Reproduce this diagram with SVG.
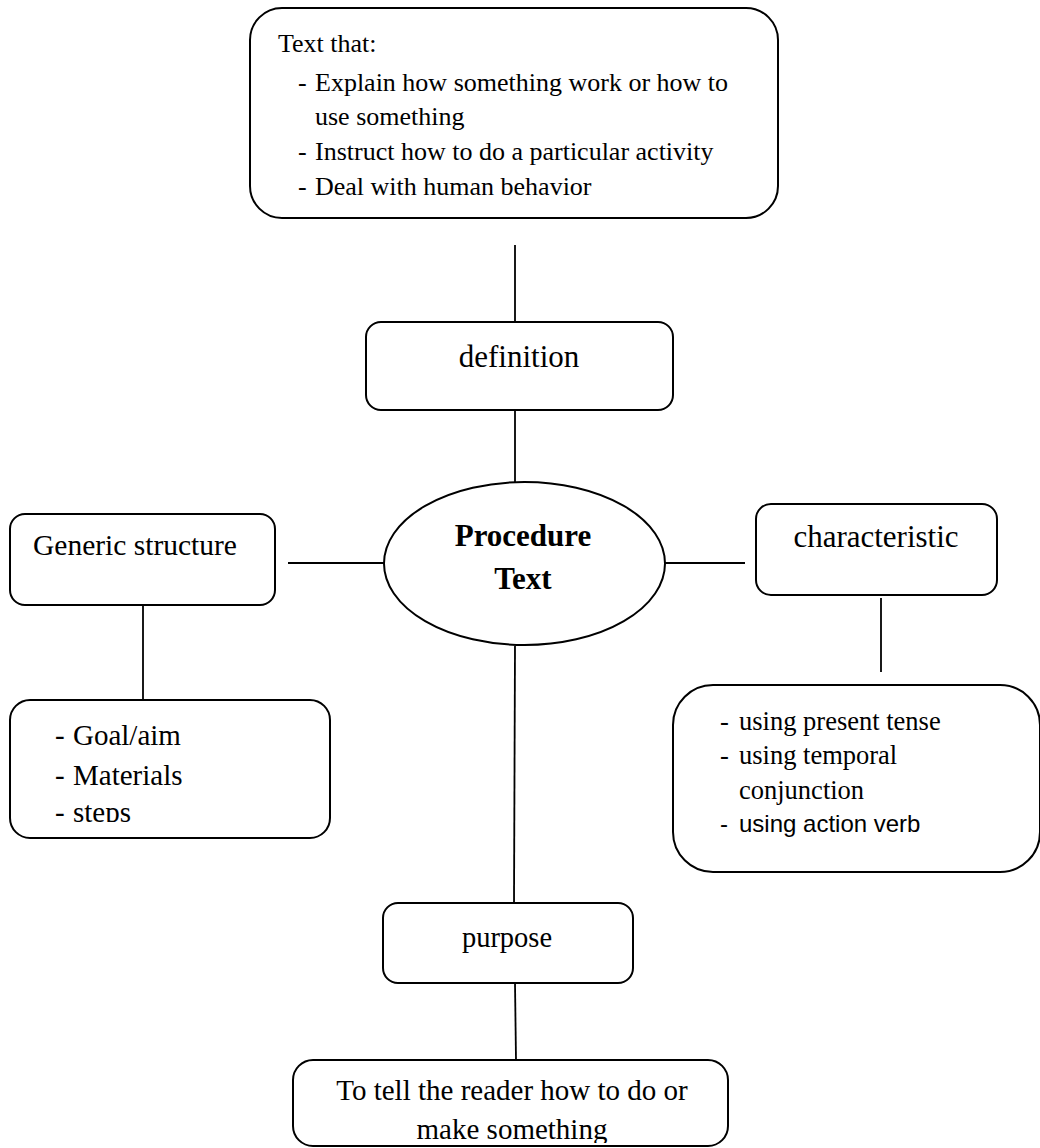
<svg xmlns="http://www.w3.org/2000/svg" width="1040" height="1148" viewBox="0 0 1040 1148">
<style>
.box{fill:#fff;stroke:#000;stroke-width:2}
.ln{stroke:#000;stroke-width:1.8;fill:none}
.t{font-family:"Liberation Serif","Times New Roman",serif;fill:#000}
.s{font-family:"Liberation Sans",Arial,sans-serif;fill:#000}
</style>
<defs>
<clipPath id="clipGoal"><rect x="10" y="700" width="320" height="122"/></clipPath>
<clipPath id="clipBottom"><rect x="293" y="1060" width="435" height="83"/></clipPath>
</defs>
<rect width="1040" height="1148" fill="#fff"/>
<g id="connectors">
<line class="ln" x1="515" y1="245" x2="515" y2="322"/>
<line class="ln" x1="515" y1="410" x2="515" y2="483"/>
<line class="ln" x1="288" y1="563" x2="384" y2="563"/>
<line class="ln" x1="665" y1="563" x2="745" y2="563"/>
<line class="ln" x1="143" y1="598" x2="143" y2="700"/>
<line class="ln" x1="881" y1="598" x2="881" y2="672"/>
<line class="ln" x1="515" y1="646" x2="514" y2="903"/>
<line class="ln" x1="515" y1="983" x2="516" y2="1060"/>
</g>
<g id="node-top">
<rect class="box" x="250" y="8" width="528" height="210" rx="32" ry="32"/>
<text class="t" font-size="26" x="278" y="52">Text that:</text>
<text class="t" font-size="26" x="298" y="91">-</text>
<text class="t" font-size="26" x="315" y="91">Explain how something work or how to</text>
<text class="t" font-size="26" x="315" y="125">use something</text>
<text class="t" font-size="26" x="298" y="160">-</text>
<text class="t" font-size="26" x="315" y="160">Instruct how to do a particular activity</text>
<text class="t" font-size="26" x="298" y="195">-</text>
<text class="t" font-size="26" x="315" y="195">Deal with human behavior</text>
</g>
<g id="node-definition">
<rect class="box" x="366" y="322" width="307" height="88" rx="15" ry="15"/>
<text class="t" font-size="31" x="519" y="367" text-anchor="middle">definition</text>
</g>
<g id="node-center">
<ellipse class="box" cx="524.5" cy="563.5" rx="140.5" ry="81.5"/>
<text class="t" font-size="31" font-weight="bold" x="523" y="546" text-anchor="middle">Procedure</text>
<text class="t" font-size="31" font-weight="bold" x="523" y="589" text-anchor="middle">Text</text>
</g>
<g id="node-generic">
<rect class="box" x="10" y="514" width="265" height="91" rx="15" ry="15"/>
<text class="t" font-size="29.5" x="33" y="555">Generic structure</text>
</g>
<g id="node-goal">
<rect class="box" x="10" y="700" width="320" height="138" rx="20" ry="20"/>
<g clip-path="url(#clipGoal)">
<text class="t" font-size="29" x="55" y="745">-</text>
<text class="t" font-size="29" x="73" y="745">Goal/aim</text>
<text class="t" font-size="29" x="55" y="785">-</text>
<text class="t" font-size="29" x="73" y="785">Materials</text>
<text class="t" font-size="29" x="55" y="822">-</text>
<text class="t" font-size="29" x="73" y="822">steps</text>
</g>
</g>
<g id="node-characteristic">
<rect class="box" x="756" y="504" width="241" height="91" rx="15" ry="15"/>
<text class="t" font-size="31" x="876" y="547" text-anchor="middle">characteristic</text>
</g>
<g id="node-char-list">
<rect class="box" x="673" y="685" width="367" height="187" rx="40" ry="40"/>
<text class="t" font-size="26.5" x="720" y="730">-</text>
<text class="t" font-size="26.5" x="739" y="730">using present tense</text>
<text class="t" font-size="26.5" x="720" y="764">-</text>
<text class="t" font-size="26.5" x="739" y="764">using temporal</text>
<text class="t" font-size="26.5" x="739" y="799">conjunction</text>
<text class="s" font-size="24" x="720" y="832">-</text>
<text class="s" font-size="24" x="739" y="832">using action verb</text>
</g>
<g id="node-purpose">
<rect class="box" x="383" y="903" width="250" height="80" rx="15" ry="15"/>
<text class="t" font-size="28.5" x="507" y="947" text-anchor="middle">purpose</text>
</g>
<g id="node-bottom">
<rect class="box" x="293" y="1060" width="435" height="86" rx="20" ry="20"/>
<g clip-path="url(#clipBottom)">
<text class="t" font-size="29" x="512" y="1100" text-anchor="middle">To tell the reader how to do or</text>
<text class="t" font-size="29" x="512" y="1139" text-anchor="middle">make something</text>
</g>
</g>
</svg>
